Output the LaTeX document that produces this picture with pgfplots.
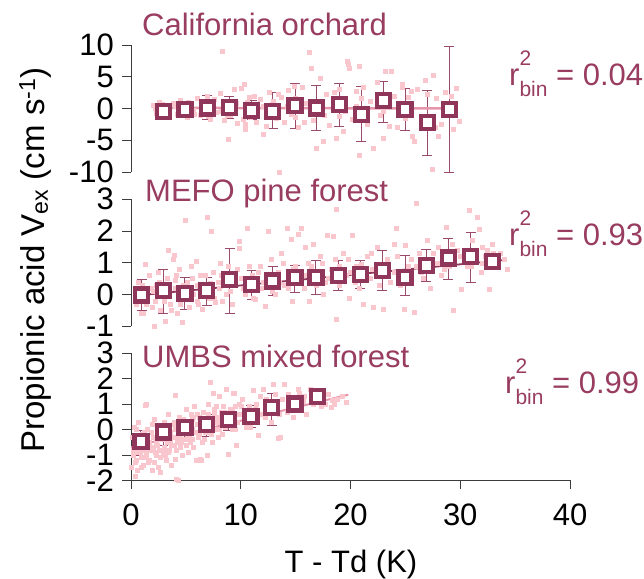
\documentclass[border=0pt]{standalone}
\usepackage{fontspec}
\setmainfont{Liberation Sans}
\usepackage{pgfplots}
\usepackage{pgfplotstable}
\pgfplotsset{compat=1.18}
\definecolor{maroon}{RGB}{143,54,90}
\definecolor{txtm}{RGB}{152,60,96}
\definecolor{dotpink}{RGB}{248,198,204}
\definecolor{fitpink}{RGB}{230,150,170}
\definecolor{axisgray}{RGB}{60,60,60}
\newcommand\bigf{\fontsize{31}{31}\selectfont}
\newcommand\labf{\fontsize{33}{33}\selectfont}
\newcommand\smallf{\fontsize{21}{21}\selectfont}
\newcommand\rbin[1]{r\rlap{\raisebox{0.62em}{\smallf 2}}\raisebox{-0.38em}{\smallf bin} = #1}
\pgfplotsset{
 panel/.style={scale only axis, width=439pt, height=127pt, xmin=0, xmax=40, clip=false,
   axis y line*=left, tick align=outside, major tick length=9pt,
   axis line style={axisgray, line width=0.8pt}, every tick/.style={axisgray, line width=0.8pt},
   tick label style={font=\bigf, text=black, inner sep=0pt},
   yticklabel style={xshift=-8pt}, xticklabel style={yshift=-14pt}},
 dots/.style={only marks, mark=square*, mark size=2pt, color=dotpink, mark options={draw=none, fill=dotpink}},
 bins/.style={only marks, mark=square*, mark size=6.5pt, line width=4.3pt, draw=maroon, mark options={draw=maroon, fill=white, line width=4.3pt}},
 errs/.style={draw=none, mark=none, error bars/.cd, y dir=both, y explicit,
   error bar style={draw=maroon!90, line width=1pt},
   error mark options={rotate=90, mark size=5pt, draw=maroon!90, line width=1pt}},
}
% ---------- binned data: x y hi lo ----------
\pgfplotstableread{
x y hi lo
2.94 -0.47 0.6 -1.3
4.92 -0.2 0.9 -1.2
6.95 0.06 2.0 -1.8
8.96 0.2 1.9 -1.5
10.99 -0.3 1.3 -1.8
12.9 -0.47 2.5 -3.2
14.95 0.42 4.0 -3.2
16.9 0.06 3.6 -3.45
18.98 0.58 4.0 -2.8
20.98 -0.99 3.45 -5.2
22.99 1.26 4.24 -2.2
24.97 -0.2 3.2 -3.45
26.99 -2.2 2.9 -7.4
29.0 -0.2 9.7 -10
}\binA
\pgfplotstableread{
x y hi lo
0.97 -0.01 0.46 -0.49
2.94 0.12 0.8 -0.6
4.92 0.04 0.54 -0.46
6.9 0.12 0.54 -0.34
9.0 0.47 1.44 -0.6
11.0 0.31 0.75 -0.17
12.9 0.43 0.88 -0.04
14.94 0.54 0.91 0.06
16.85 0.54 1.07 -0.01
18.9 0.59 1.07 0.12
20.9 0.63 1.07 0.2
22.9 0.75 1.39 0.14
24.97 0.54 1.23 -0.04
26.9 0.91 1.41 0.4
28.9 1.15 1.76 0.46
30.95 1.2 1.97 0.38
32.95 1.04 1.2 0.88
}\binB
\pgfplotstableread{
x y hi lo
0.91 -0.46 -0.04 -1.03
2.95 -0.1 0.2 -0.63
4.92 0.09 0.4 -0.43
6.9 0.2 0.59 -0.28
8.87 0.4 0.68 -0.04
10.93 0.51 0.95 0.09
12.82 0.86 1.41 0.16
14.94 1.0 1.25 0.75
17.0 1.3 1.45 1.15
}\binC
% ---------- individual points ----------
\pgfplotstableread{
x y
2.0 0.5
2.3 -0.8
2.6 1.0
2.9 -1.2
3.2 0.3
3.5 -0.4
3.8 0.9
4.2 -0.9
4.5 1.3
4.8 0.2
5.1 -1.4
5.4 0.7
5.7 -0.3
6.0 1.6
6.3 -1.0
6.6 0.4
6.9 1.9
7.2 -1.7
7.5 0.8
7.8 -0.6
8.1 2.4
8.35 8.95
8.5 -1.9
8.8 1.2
8.87 -4.8
9.1 -0.5
9.4 3.0
9.7 -2.3
10.0 3.2
10.3 3.8
10.4 -2.5
10.4 -3.3
10.6 1.0
10.9 -1.3
11.2 2.0
11.5 -0.8
11.8 1.5
12.05 -4.1
12.3 -2.8
12.6 2.6
12.9 0.6
13.2 -1.6
13.5 -10.0
13.7 1.8
14.0 -2.2
14.3 2.9
14.6 -0.9
14.9 3.5
15.2 -3.0
15.6 3.3
15.9 0.9
16.2 8.8
16.4 6.3
16.6 -1.8
16.9 -6.2
17.2 4.8
17.5 -5.1
17.8 2.2
18.1 -2.6
18.4 1.4
18.7 -4.6
19.0 3.0
19.3 -3.5
19.7 7.5
19.8 6.9
19.9 6.4
20.2 -1.7
20.5 2.7
20.8 6.7
20.8 -7.4
21.2 3.4
21.5 -2.4
21.8 1.2
22.1 -6.2
22.4 4.2
22.7 -1.0
23.0 -4.6
23.2 5.9
23.7 5.9
24.0 2.0
24.3 -2.9
24.7 3.9
24.7 3.4
25.0 -1.5
25.3 1.8
25.6 -4.4
25.8 -5.2
26.1 3.0
26.4 -3.1
26.8 4.5
27.1 -1.2
27.4 -9.6
27.5 5.3
27.8 1.6
28.0 -4.4
28.3 -2.4
28.6 2.6
28.9 -0.8
29.2 1.9
29.6 3.2
29.9 -2.0
3.0 0.0
5.0 -0.6
7.0 0.9
9.0 -1.1
11.0 0.4
13.0 1.1
15.0 -1.4
17.0 0.7
19.0 -1.2
21.0 1.6
23.0 -0.4
25.0 0.8
27.0 2.2
29.0 -0.5
2.2 0.0
2.8 0.6
3.4 -0.8
4.0 0.4
4.6 -0.5
5.2 1.0
5.8 -0.9
6.4 0.8
7.0 -1.2
7.6 1.4
8.2 -0.4
8.8 -1.0
9.6 0.9
10.2 -1.7
10.8 1.8
11.4 -2.2
12.0 0.3
12.8 -0.9
13.4 2.3
14.2 0.4
15.0 1.6
15.8 -2.1
16.5 0.6
17.6 -1.0
18.5 2.6
19.5 -0.5
20.5 0.4
21.4 -1.9
22.5 0.9
23.5 -2.8
24.5 0.0
25.5 2.8
26.5 -1.6
27.7 -3.0
28.5 0.4
29.4 -3.3
}\ptsA
\pgfplotstableread{
x y
0.5 -0.3
0.7 0.4
0.9 -0.6
1.1 0.2
1.1 -0.58
1.3 0.96
1.5 -0.2
1.7 0.6
1.9 -0.4
2.1 -1.0
2.3 0.3
2.5 0.7
2.7 -0.5
2.9 0.1
3.1 -0.84
3.3 0.5
3.4 1.4
3.6 -0.3
3.8 1.1
3.9 1.25
4.0 0.2
4.2 -0.6
4.4 0.8
4.6 -0.1
4.7 -0.87
4.9 2.34
5.1 0.4
5.3 -0.4
5.5 0.9
5.7 0.0
5.9 1.06
6.1 -0.3
6.3 0.6
6.5 -0.45
6.7 0.3
6.9 2.44
7.1 -0.1
7.3 1.99
7.5 0.7
7.7 -0.25
7.9 0.4
8.1 1.0
8.3 -0.2
8.6 0.5
8.9 0.9
9.2 -0.3
9.5 0.6
9.9 1.67
9.9 1.46
10.2 0.2
10.6 2.1
10.8 0.9
11.1 -0.1
11.3 -0.15
11.6 0.7
11.9 0.2
12.2 -0.38
12.5 2.0
12.8 1.1
13.1 0.0
13.4 0.7
13.7 1.3
14.0 0.3
14.2 2.1
14.6 1.75
14.7 -0.2
15.0 0.9
15.2 1.9
15.5 2.1
15.8 0.2
15.9 1.5
16.2 -0.2
16.4 0.9
16.6 1.6
16.9 0.3
17.2 1.2
17.5 0.0
17.9 1.88
18.2 0.8
18.4 1.83
18.7 2.7
18.7 -0.78
19.0 0.3
19.3 1.3
19.6 0.6
19.9 -0.1
20.2 1.88
20.5 0.9
20.8 0.2
21.2 -0.3
21.5 1.2
21.8 0.5
22.1 -0.4
22.4 1.5
22.7 0.8
23.0 -0.46
23.3 1.1
23.6 0.4
24.0 1.6
24.2 2.1
24.5 0.3
24.9 -0.47
25.0 1.57
25.3 0.9
25.8 -0.55
26.0 2.87
26.3 1.3
26.6 0.5
27.0 1.7
27.3 0.2
27.6 1.0
28.0 1.5
28.3 0.6
28.7 2.13
29.0 0.9
29.4 -0.5
29.7 1.4
30.1 0.17
30.4 1.1
30.8 2.66
31.1 1.7
31.5 2.45
31.7 2.05
31.9 0.7
32.0 1.5
32.3 1.2
32.6 0.17
32.9 1.6
33.2 0.9
33.6 1.3
34.0 1.1
34.3 0.8
1.2 0.0
2.0 0.1
3.0 -0.2
4.0 0.45
5.0 0.2
6.0 0.3
7.0 0.05
8.0 0.2
9.0 0.1
10.0 0.5
11.0 0.6
12.0 0.4
13.0 0.3
14.5 0.5
15.5 0.65
16.0 0.6
17.0 0.75
18.0 0.5
19.0 0.9
20.0 0.7
21.0 0.95
22.0 0.8
23.0 0.6
24.0 0.7
25.0 0.5
26.0 0.9
27.0 0.8
28.0 1.0
29.0 1.3
30.0 1.2
31.0 0.9
32.0 1.0
33.0 1.3
0.6 0.1
1.0 0.3
1.4 -0.3
1.8 0.2
2.2 -0.2
2.6 0.4
3.2 0.1
3.7 -0.5
4.1 0.6
4.5 -0.3
4.8 0.3
5.2 0.0
5.6 0.5
6.0 -0.2
6.4 0.2
6.8 0.6
7.2 0.35
7.6 -0.1
8.2 0.6
8.7 0.0
9.3 0.4
9.7 0.8
10.4 0.0
10.9 0.5
11.4 0.3
11.8 0.9
12.4 0.6
12.9 0.1
13.5 0.4
13.9 1.0
14.3 0.2
14.8 0.8
15.3 0.4
16.1 1.0
16.7 0.4
17.4 1.0
17.7 0.4
18.6 1.1
19.1 0.6
19.8 1.1
20.4 0.4
21.3 0.6
21.9 1.3
22.6 0.3
23.4 0.9
24.3 1.2
25.5 1.1
26.4 0.7
27.5 1.3
28.5 0.8
29.3 1.6
30.6 0.9
31.4 1.2
32.5 1.4
33.4 1.0
}\ptsB
\pgfplotstableread{
x y
0.06 -1.49
0.36 -1.82
0.1 -0.3
0.2 -1.0
0.3 0.1
0.4 -0.7
0.5 -1.2
0.6 -0.4
0.7 0.3
0.8 -0.9
0.9 -1.5
1.0 -0.2
1.1 -0.6
1.2 -1.1
1.3 0.95
1.34 0.99
1.4 -0.8
1.5 0.0
1.6 -1.3
1.7 -0.5
1.8 -0.1
1.9 -1.6
2.0 -0.7
2.1 0.4
2.2 -0.3
2.3 -1.0
2.4 -0.6
2.5 -1.5
2.6 0.1
2.7 -1.7
2.8 -0.4
2.9 -0.9
3.0 0.3
3.1 -0.2
3.2 -1.2
3.3 -0.5
3.4 0.6
3.5 -0.8
3.6 -0.1
3.7 -1.4
3.8 0.2
3.9 -0.6
4.0 -1.16
4.07 1.34
4.16 -1.95
4.2 -0.3
4.3 -1.99
4.4 0.5
4.5 -0.7
4.6 0.0
4.7 -1.0
4.8 0.4
4.9 -0.4
5.0 0.8
5.1 -0.1
5.2 -0.9
5.3 0.3
5.4 -0.5
5.5 0.6
5.6 0.0
5.7 -0.7
5.8 0.9
5.9 -1.22
6.0 0.2
6.1 -0.3
6.2 0.5
6.3 -1.16
6.4 -1.2
6.5 0.1
6.6 0.7
6.7 -0.4
6.8 0.3
6.9 -1.03
7.0 1.0
7.1 -0.1
7.2 1.87
7.3 0.4
7.4 -0.5
7.5 1.44
7.6 0.6
7.7 0.0
7.8 0.9
7.9 -0.3
8.0 1.3
8.1 0.3
8.3 -0.2
8.5 0.7
8.7 1.6
8.9 -0.96
9.0 0.2
9.2 0.8
9.3 1.41
9.4 1.44
9.5 0.0
9.6 -0.63
9.8 0.6
10.0 0.9
10.1 1.21
10.3 0.3
10.6 0.7
10.9 0.1
11.1 1.54
11.3 0.8
11.6 -0.24
11.75 1.3
12.0 1.6
12.2 0.5
12.5 1.0
12.8 0.3
13.0 1.8
13.2 0.9
13.4 -0.33
13.6 -0.3
13.8 1.2
14.0 1.8
14.2 0.7
14.5 1.1
14.8 0.5
15.2 1.6
15.3 1.44
15.5 0.8
15.8 1.3
16.0 0.6
16.3 1.6
16.6 1.0
17.0 1.5
17.3 0.9
17.7 1.0
18.0 1.4
18.2 0.86
18.3 1.15
18.8 1.2
19.2 1.3
19.65 1.08
0.3 -0.5
0.7 -0.9
1.0 -0.8
1.3 -0.4
1.6 -0.6
2.0 -0.3
2.3 -0.5
2.6 -0.8
3.0 -0.4
3.3 -0.1
3.6 -0.5
4.0 0.0
4.3 -0.2
4.6 -0.5
5.0 0.1
5.3 -0.2
5.6 0.4
6.0 -0.1
6.3 0.2
6.6 0.0
7.0 0.3
7.3 0.1
7.6 0.4
8.0 0.5
8.4 0.3
8.8 0.6
9.1 0.4
9.5 0.9
0.2 -0.8
0.4 -1.3
0.5 0.0
0.6 -1.6
0.8 -0.3
0.9 -1.1
1.1 -1.4
1.2 -0.1
1.4 -1.0
1.5 -0.6
1.7 -1.2
1.8 -0.8
1.9 0.2
2.1 -1.3
2.2 -0.9
2.4 -0.2
2.5 -0.4
2.7 -1.1
2.8 0.0
3.0 -0.7
3.1 -1.0
3.2 -0.3
3.4 -0.9
3.5 0.0
3.7 -0.6
3.8 -0.3
3.9 0.3
4.1 -0.8
4.2 -0.5
4.4 0.1
4.5 -0.2
4.7 -0.4
4.8 0.2
5.0 -0.6
5.1 -0.3
5.3 0.0
5.4 0.3
5.6 -0.4
5.7 0.5
5.9 -0.1
6.0 0.6
6.2 -0.2
6.3 0.1
6.5 -0.5
6.6 0.4
6.8 -0.1
7.0 0.6
7.1 0.2
7.3 -0.2
7.5 0.0
7.6 0.8
7.8 0.3
8.0 0.0
8.2 0.7
8.4 0.9
8.6 0.1
8.8 0.4
9.0 0.8
9.2 0.0
9.4 0.5
9.7 0.3
9.9 1.0
10.2 0.6
10.5 0.1
10.8 0.9
11.0 0.4
11.4 1.0
11.8 0.6
12.3 1.2
12.7 0.7
13.1 1.4
13.5 0.6
14.3 1.4
15.0 0.9
15.7 1.1
16.5 1.3
17.5 1.3
18.5 1.0
}\ptsC
\begin{document}
\begin{tikzpicture}
\useasboundingbox (0pt,0pt) rectangle (644pt,-578pt);
% ---- top panel ----
\begin{axis}[panel, axis x line=none, at={(131pt,-45pt)}, anchor=north west, ymin=-10, ymax=10,
  ytick={-10,-5,0,5,10}, yticklabels={-10,-5,0,5,10}]
\addplot[dots] table[x=x,y=y] {\ptsA};
\addplot[bins] table[x=x,y=y] {\binA};
\addplot[errs] table[x=x,y=y, y error plus expr=\thisrow{hi}-\thisrow{y}, y error minus expr=\thisrow{y}-\thisrow{lo}] {\binA};
\addplot[fitpink, line width=2.5pt] coordinates {(2.4,0.1) (29.7,0.0)};
\end{axis}
% ---- middle panel ----
\begin{axis}[panel, axis x line=none, at={(131pt,-199.3pt)}, anchor=north west, ymin=-1, ymax=3,
  ytick={-1,0,1,2,3}, yticklabels={-1,0,1,2,3}]
\addplot[dots] table[x=x,y=y] {\ptsB};
\addplot[bins] table[x=x,y=y] {\binB};
\addplot[errs] table[x=x,y=y, y error plus expr=\thisrow{hi}-\thisrow{y}, y error minus expr=\thisrow{y}-\thisrow{lo}] {\binB};
\addplot[maroon, line width=1.8pt] coordinates {(0.8,-0.02) (33.8,1.08)};
\end{axis}
% ---- bottom panel ----
\begin{axis}[panel, at={(131pt,-353.3pt)}, anchor=north west, ymin=-2, ymax=3,
  ytick={-2,-1,0,1,2,3}, yticklabels={-2,-1,0,1,2,3},
  axis x line*=bottom, xtick={0,10,20,30,40}, xticklabels={0,10,20,30,40}]
\addplot[dots] table[x=x,y=y] {\ptsC};
\addplot[bins] table[x=x,y=y] {\binC};
\addplot[errs] table[x=x,y=y, y error plus expr=\thisrow{hi}-\thisrow{y}, y error minus expr=\thisrow{y}-\thisrow{lo}] {\binC};
\addplot[fitpink, line width=2pt] coordinates {(0,-0.7) (19.8,1.37)};
\end{axis}
% ---- texts ----
\node[anchor=base west, inner sep=0pt, text=txtm, font=\bigf] at (142pt,-36pt) {California orchard};
\node[anchor=base west, inner sep=0pt, text=txtm, font=\bigf] at (145pt,-201pt) {MEFO pine forest};
\node[anchor=base west, inner sep=0pt, text=txtm, font=\bigf] at (142pt,-367pt) {UMBS mixed forest};
\node[anchor=base west, inner sep=0pt, text=txtm, font=\bigf] at (509pt,-85pt) {\rbin{0.04}};
\node[anchor=base west, inner sep=0pt, text=txtm, font=\bigf] at (509pt,-245pt) {\rbin{0.93}};
\node[anchor=base west, inner sep=0pt, text=txtm, font=\bigf] at (505pt,-393pt) {\rbin{0.99}};
\node[rotate=90, inner sep=0pt, font=\labf] at (35pt,-260pt) {Propionic acid V\textsubscript{ex} (cm s\textsuperscript{-1})};
\node[anchor=base, inner sep=0pt, font=\bigf] at (351pt,-572pt) {T - Td (K)};
\end{tikzpicture}
\end{document}
